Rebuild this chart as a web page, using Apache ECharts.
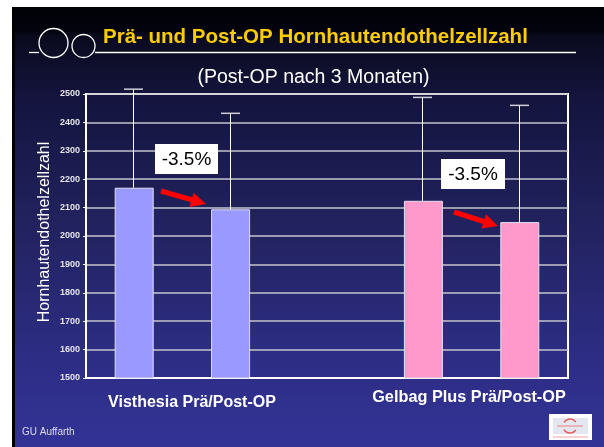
<!DOCTYPE html>
<html><head><meta charset="utf-8">
<script src="https://cdn.jsdelivr.net/npm/echarts@6/dist/echarts.min.js"></script>
<style>html,body{margin:0;padding:0;background:#fff;}#c{width:604px;height:447px;}</style>
</head><body><div id="c"></div>
<script>
// ---- data ----
const categories = ['Visthesia Prä', 'Visthesia Post', '', 'Gelbag Plus Prä', 'Gelbag Plus Post'];
const meanValues = [2170, 2094, '-', 2124, 2049];
const upperErrors = [2517, 2432, '-', 2488, 2460];
const groupLabels = ['Visthesia Prä/Post-OP', 'Gelbag Plus Prä/Post-OP'];
const changeLabels = ['-3.5%', '-3.5%'];
const yTicks = { min: 1500, max: 2500, interval: 100 };
const titleText = 'Prä- und Post-OP Hornhautendothelzellzahl';
const subtitleText = '(Post-OP nach 3 Monaten)';
const yAxisName = 'Hornhautendothelzellzahl';
const footerText = 'GU Auffarth';

const barColors = ['#9999ff', '#9999ff', '#9999ff', '#ff99cc', '#ff99cc'];
const FONT = '"Liberation Sans", Arial, sans-serif';

const chart = echarts.init(document.getElementById('c'), null, { renderer: 'canvas' });

function arrowPoints(x1, y1, x2, y2, sw, hl, hw) {
  const dx = x2 - x1, dy = y2 - y1, L = Math.hypot(dx, dy);
  const ux = dx / L, uy = dy / L, px = -uy, py = ux;
  const bx = x2 - ux * hl, by = y2 - uy * hl;
  return [
    [x1 + px * sw, y1 + py * sw], [bx + px * sw, by + py * sw], [bx + px * hw, by + py * hw],
    [x2, y2],
    [bx - px * hw, by - py * hw], [bx - px * sw, by - py * sw], [x1 - px * sw, y1 - py * sw]
  ];
}

const barData = meanValues.map((v, i) => ({ value: v, itemStyle: { color: barColors[i] } }));
const errData = [];
meanValues.forEach((v, i) => { if (v !== '-') errData.push([i, v, upperErrors[i]]); });

const option = {
  animation: false,
  backgroundColor: {
    type: 'linear', x: 0, y: 0, x2: 0, y2: 1,
    colorStops: [
      { offset: 0, color: '#000004' },
      { offset: 0.07, color: '#03030f' },
      { offset: 0.08, color: '#0a0a1e' },
      { offset: 0.22, color: '#14143e' },
      { offset: 0.5, color: '#22225f' },
      { offset: 0.8, color: '#2d2d85' },
      { offset: 1, color: '#333396' }
    ]
  },
  grid: { left: 86, right: 36, top: 94, bottom: 69, show: true, borderColor: '#ffffff', borderWidth: 2, backgroundColor: 'transparent' },
  xAxis: {
    type: 'category', data: categories, boundaryGap: true,
    axisLine: { show: true, lineStyle: { color: '#ffffff', width: 2 } },
    axisTick: { show: false }, axisLabel: { show: false }, splitLine: { show: false }
  },
  yAxis: {
    type: 'value', min: yTicks.min, max: yTicks.max, interval: yTicks.interval,
    axisLine: { show: true, lineStyle: { color: '#ffffff', width: 2 } },
    axisTick: { show: true, length: 3, lineStyle: { color: '#ffffff', width: 1 } },
    axisLabel: { color: '#e6e6e6', fontSize: 9, fontWeight: 'bold', fontFamily: FONT, margin: 6, formatter: function (v) { return String(v); } },
    splitLine: { show: true, lineStyle: { color: '#c4c4cc', width: 1.5 } }
  },
  series: [
    {
      type: 'bar', data: barData, barWidth: 39, z: 3,
      itemStyle: { borderColor: '#e0e0ee', borderWidth: 1 }
    },
    {
      type: 'custom', z: 4, data: errData,
      renderItem: function (params, api) {
        const base = api.coord([api.value(0), api.value(1)]);
        const top = api.coord([api.value(0), api.value(2)]);
        const x = Math.round(base[0]) - 0.5;
        return {
          type: 'group', children: [
            { type: 'line', shape: { x1: x, y1: base[1], x2: x, y2: top[1] }, style: { stroke: '#ffffff', lineWidth: 1 } },
            { type: 'line', shape: { x1: x - 9.5, y1: top[1], x2: x + 9.5, y2: top[1] }, style: { stroke: '#cfcfd8', lineWidth: 1.5 } }
          ]
        };
      }
    }
  ],
  graphic: [
    { type: 'rect', shape: { x: 0, y: 0, width: 604, height: 7 }, style: { fill: '#ffffff' }, z: 100 },
    { type: 'rect', shape: { x: 0, y: 0, width: 12, height: 447 }, style: { fill: '#ffffff' }, z: 100 },
    { type: 'rect', shape: { x: 12, y: 7, width: 3, height: 440 }, style: { fill: '#000000' }, z: 100 },
    // title decoration
    { type: 'circle', shape: { cx: 53.5, cy: 43, r: 14.5 }, style: { fill: 'transparent', stroke: '#ffffff', lineWidth: 1.3 }, z: 100 },
    { type: 'circle', shape: { cx: 83.5, cy: 46, r: 11.5 }, style: { fill: 'transparent', stroke: '#ffffff', lineWidth: 1.3 }, z: 100 },
    { type: 'line', shape: { x1: 29, y1: 52.5, x2: 39, y2: 52.5 }, style: { stroke: '#ffffff', lineWidth: 1.3 }, z: 100 },
    { type: 'line', shape: { x1: 95, y1: 52.5, x2: 576, y2: 52.5 }, style: { stroke: '#ffffff', lineWidth: 1.3 }, z: 100 },
    { type: 'text', x: 103, y: 37, style: { text: titleText, fill: '#ffcc00', font: 'bold 20.5px ' + FONT, textVerticalAlign: 'middle', textAlign: 'left' }, z: 100 },
    { type: 'text', x: 313.5, y: 78, style: { text: subtitleText, fill: '#ffffff', font: '19.5px ' + FONT, textVerticalAlign: 'middle', textAlign: 'center' }, z: 100 },
    // y axis name
    { type: 'text', x: 44.5, y: 232, rotation: Math.PI / 2, style: { text: yAxisName, fill: '#ffffff', font: '16px ' + FONT, textVerticalAlign: 'middle', textAlign: 'center' }, z: 100 },
    // group labels
    { type: 'text', x: 192, y: 403, style: { text: groupLabels[0], fill: '#ffffff', font: 'bold 16px ' + FONT, textVerticalAlign: 'middle', textAlign: 'center' }, z: 100 },
    { type: 'text', x: 469, y: 398, style: { text: groupLabels[1], fill: '#ffffff', font: 'bold 16.3px ' + FONT, textVerticalAlign: 'middle', textAlign: 'center' }, z: 100 },
    { type: 'text', x: 22, y: 432, style: { text: footerText, fill: '#dcdcf0', font: '10px ' + FONT, textVerticalAlign: 'middle', textAlign: 'left' }, z: 100 },
    // change boxes
    { type: 'rect', shape: { x: 155, y: 144, width: 63, height: 30 }, style: { fill: '#ffffff' }, z: 100 },
    { type: 'text', x: 186.5, y: 159.5, style: { text: changeLabels[0], fill: '#000000', font: '19px ' + FONT, textVerticalAlign: 'middle', textAlign: 'center' }, z: 101 },
    { type: 'rect', shape: { x: 441, y: 159, width: 64, height: 30 }, style: { fill: '#ffffff' }, z: 100 },
    { type: 'text', x: 473, y: 174.5, style: { text: changeLabels[1], fill: '#000000', font: '19px ' + FONT, textVerticalAlign: 'middle', textAlign: 'center' }, z: 101 },
    // arrows
    { type: 'polygon', shape: { points: arrowPoints(161, 191, 206, 204, 2.6, 15, 7.5) }, style: { fill: '#ff0000' }, z: 100 },
    { type: 'polygon', shape: { points: arrowPoints(454, 212, 498, 226, 2.6, 15, 7.5) }, style: { fill: '#ff0000' }, z: 100 },
    // logo
    { type: 'rect', shape: { x: 549, y: 414, width: 43, height: 26 }, style: { fill: '#ffffff' }, z: 100 },
    { type: 'rect', shape: { x: 553, y: 418, width: 35, height: 16 }, style: { fill: '#e4e6f0' }, z: 101 },
    { type: 'arc', shape: { cx: 570, cy: 426, r: 7, startAngle: 0.6, endAngle: 2.6 }, style: { fill: 'none', stroke: '#e85a5a', lineWidth: 1.5 }, z: 102 },
    { type: 'arc', shape: { cx: 570, cy: 426, r: 7, startAngle: 3.7, endAngle: 5.7 }, style: { fill: 'none', stroke: '#e85a5a', lineWidth: 1.5 }, z: 102 },
    { type: 'line', shape: { x1: 557, y1: 426, x2: 583, y2: 426 }, style: { stroke: '#f08080', lineWidth: 1 }, z: 102 },
    { type: 'line', shape: { x1: 553, y1: 437, x2: 588, y2: 437 }, style: { stroke: '#f4a0a0', lineWidth: 1 }, z: 102 }
  ]
};
chart.setOption(option);
</script>
</body></html>
